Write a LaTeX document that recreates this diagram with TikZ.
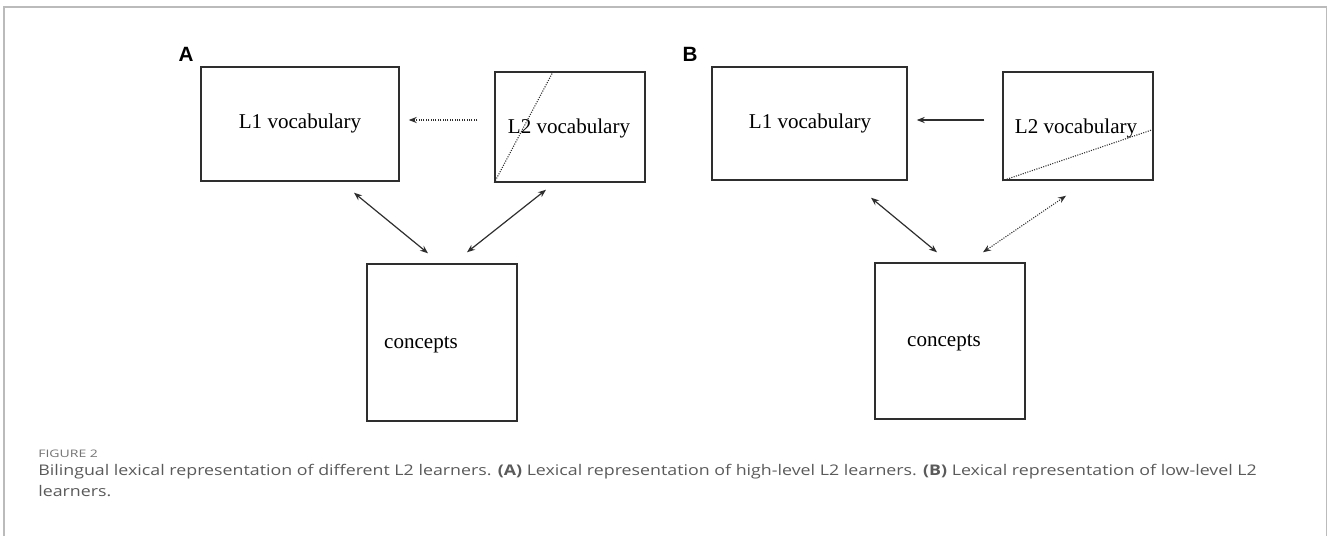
\documentclass[tikz,border=0pt]{standalone}
\usepackage{fontspec}
\setmainfont{Liberation Serif}
\newfontfamily\capfont{Open Sans}
\newfontfamily\panelfont{Liberation Sans}
\usepackage{xcolor}
\usetikzlibrary{calc,arrows.meta}
\definecolor{framegray}{HTML}{BBBBBB}
\definecolor{capgray}{HTML}{5A5A5A}
\definecolor{inkgray}{HTML}{2E2E2E}

\begin{document}
\begin{tikzpicture}[x=0.75pt,y=-0.75pt,
    >={Stealth[length=6pt,width=4.6pt]},
    box/.style 2 args={draw=inkgray,line width=1.1pt,inner sep=0pt,
      minimum width=#1*0.75pt,minimum height=#2*0.75pt},
    word/.style={font=\fontsize{15.8}{18}\selectfont,inner sep=0pt},
    panel/.style={font=\panelfont\bfseries\fontsize{15.5}{18}\selectfont,inner sep=0pt},
    capline/.style={anchor=base west,inner sep=0pt,text=capgray,font=\capfont\fontsize{11}{13}\selectfont},
    link/.style={draw=inkgray,line width=0.9pt},
    dots/.style={draw=inkgray,line width=0.8pt,densely dotted}]
      \useasboundingbox (0,0) rectangle (1330,536);

      % outer frame
      \draw[framegray,line width=1.3pt] (3.7,536) -- (3.7,6.7) -- (1326.5,6.7) -- (1326.5,536);

      % Panel A
      \node[panel] (labA) at (186,54) {A};
      \node[box={198}{114}] (l1a) at (300,124) {};
      \node[box={150}{110}] (l2a) at (570,127) {};
      \node[box={150}{157}] (cona) at (442,342.5) {};
      \node[word] (l1a-t) at (300,123) {L1 vocabulary};
      \node[word] (l2a-t) at (569,128) {L2 vocabulary};
      \node[word] (cona-t) at (421,345) {concepts};

      \draw[dots] (l2a.south west) -- ($(l2a.north west)+(59,0)$);
      \draw[dots,->] ($(l2a.west)+(-17,-7)$) -- ($(l1a.east)+(9,-4)$);
      \draw[link,<->] ($(l1a.south)+(54,11)$) -- ($(cona.north)+(-14,-10)$);
      \draw[link,<->] ($(l2a.south)+(-24,7)$) -- ($(cona.north)+(25,-11)$);

      % Panel B
      \node[panel] (labB) at (690,54) {B};
      \node[box={195}{113}] (l1b) at (809.5,123.5) {};
      \node[box={150}{108}] (l2b) at (1078,126) {};
      \node[box={150}{156}] (conb) at (950,341) {};
      \node[word] (l1b-t) at (810,123) {L1 vocabulary};
      \node[word] (l2b-t) at (1076,128) {L2 vocabulary};
      \node[word] (conb-t) at (944,343) {concepts};

      \draw[dots] (l2b.south west) -- ($(l2b.north east)+(0,58)$);
      \draw[link,->] ($(l2b.west)+(-18,-6)$) -- ($(l1b.east)+(9,-3.5)$);
      \draw[link,<->] ($(l1b.south)+(61.5,17)$) -- ($(conb.north)+(-13,-10)$);
      \draw[dots,<->] ($(l2b.south)+(-12,15)$) -- ($(conb.north)+(33,-10)$);

      % Caption
      \node[capline,font=\capfont\fontsize{7.8}{10}\selectfont,text=capgray!85] (fig) at (38,457) {\scalebox{1.35}[1]{FIGURE 2}};
      \node[capline] (cap1) at (38,475) {\scalebox{1.214}[1]{Bilingual lexical representation of different L2 learners. \textbf{(A)} Lexical representation of high-level L2 learners. \textbf{(B)} Lexical representation of low-level L2}};
      \node[capline] (cap2) at (38,496) {\scalebox{1.214}[1]{learners.}};
    \end{tikzpicture}
\end{document}
